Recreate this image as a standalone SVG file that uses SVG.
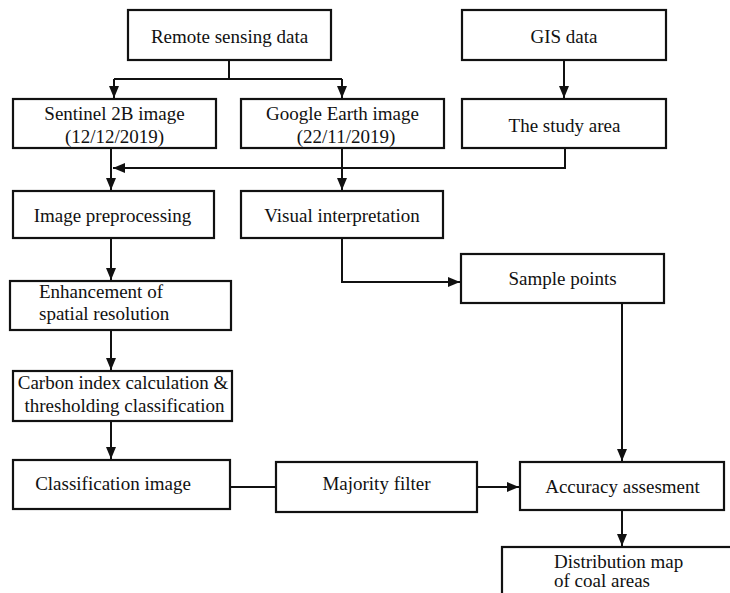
<svg xmlns="http://www.w3.org/2000/svg" width="730" height="593" viewBox="0 0 730 593">
<style>
.box{fill:#fff;stroke:#111;stroke-width:2.2}
.t{font-family:'Liberation Serif','Tinos','Times New Roman','DejaVu Serif',serif;font-size:19px;fill:#111;text-anchor:middle}
.l{text-anchor:start}
.c{fill:none;stroke:#111;stroke-width:2}
</style>
<defs>
<marker id="ah" markerUnits="userSpaceOnUse" markerWidth="12" markerHeight="10" viewBox="0 0 12 10" refX="12" refY="5" orient="auto">
<path d="M0,0 L12,5 L0,10 Z" fill="#111"/>
</marker>
</defs>
<rect width="730" height="593" fill="#fff"/>
<g id="connectors">
<path class="c" d="M229,60 V79"/>
<path class="c" d="M114,79 H342"/>
<path class="c" d="M114,79 V98" marker-end="url(#ah)"/>
<path class="c" d="M342,79 V98" marker-end="url(#ah)"/>
<path class="c" d="M564,60 V98" marker-end="url(#ah)"/>
<path class="c" d="M565,148 V168 H113" marker-end="url(#ah)"/>
<path class="c" d="M111,148 V190" marker-end="url(#ah)"/>
<path class="c" d="M342,148 V190" marker-end="url(#ah)"/>
<path class="c" d="M342,238 V282 H460" marker-end="url(#ah)"/>
<path class="c" d="M111,238 V280" marker-end="url(#ah)"/>
<path class="c" d="M111,330 V370" marker-end="url(#ah)"/>
<path class="c" d="M111,421 V459" marker-end="url(#ah)"/>
<path class="c" d="M230,487 H276"/>
<path class="c" d="M477,487 H519" marker-end="url(#ah)"/>
<path class="c" d="M622,303 V461" marker-end="url(#ah)"/>
<path class="c" d="M622,510 V546" marker-end="url(#ah)"/>
</g>
<g id="remote-sensing">
<rect class="box" x="128" y="10" width="203" height="50"/>
<text class="t" x="229.5" y="43" font-family="Liberation Serif, serif">Remote sensing data</text>
</g>
<g id="gis-data">
<rect class="box" x="462" y="10" width="204" height="50"/>
<text class="t" x="564" y="43">GIS data</text>
</g>
<g id="sentinel">
<rect class="box" x="13" y="99" width="203" height="49"/>
<text class="t" x="114.5" y="120">Sentinel 2B image</text>
<text class="t" x="114.5" y="143">(12/12/2019)</text>
</g>
<g id="google-earth">
<rect class="box" x="241" y="99" width="203" height="49"/>
<text class="t" x="342.5" y="120">Google Earth image</text>
<text class="t" x="346" y="143">(22/11/2019)</text>
</g>
<g id="study-area">
<rect class="box" x="462" y="99" width="204" height="49"/>
<text class="t" x="564.5" y="132">The study area</text>
</g>
<g id="image-preprocessing">
<rect class="box" x="13" y="191" width="201" height="47"/>
<text class="t" x="112.5" y="222">Image preprocessing</text>
</g>
<g id="visual-interpretation">
<rect class="box" x="241" y="191" width="202" height="47"/>
<text class="t" x="342" y="222">Visual interpretation</text>
</g>
<g id="sample-points">
<rect class="box" x="461" y="254" width="203" height="49"/>
<text class="t" x="562.5" y="285">Sample points</text>
</g>
<g id="enhancement">
<rect class="box" x="10" y="281" width="221" height="49"/>
<text class="t l" x="39" y="298">Enhancement of</text>
<text class="t l" x="39" y="320">spatial resolution</text>
</g>
<g id="carbon-index">
<rect class="box" x="13" y="371" width="219" height="50"/>
<text class="t" x="123" y="389">Carbon index calculation &amp;</text>
<text class="t" x="124.5" y="412">thresholding classification</text>
</g>
<g id="classification-image">
<rect class="box" x="13" y="460" width="217" height="49"/>
<text class="t" x="113" y="490">Classification image</text>
</g>
<g id="majority-filter">
<rect class="box" x="276" y="462" width="201" height="50"/>
<text class="t" x="376.5" y="490">Majority filter</text>
</g>
<g id="accuracy">
<rect class="box" x="520" y="462" width="204" height="48"/>
<text class="t" x="622.5" y="493">Accuracy assesment</text>
</g>
<g id="distribution-map">
<rect class="box" x="502" y="547" width="240" height="60"/>
<text class="t l" x="554" y="568">Distribution map</text>
<text class="t l" x="554" y="587">of coal areas</text>
</g>
</svg>
